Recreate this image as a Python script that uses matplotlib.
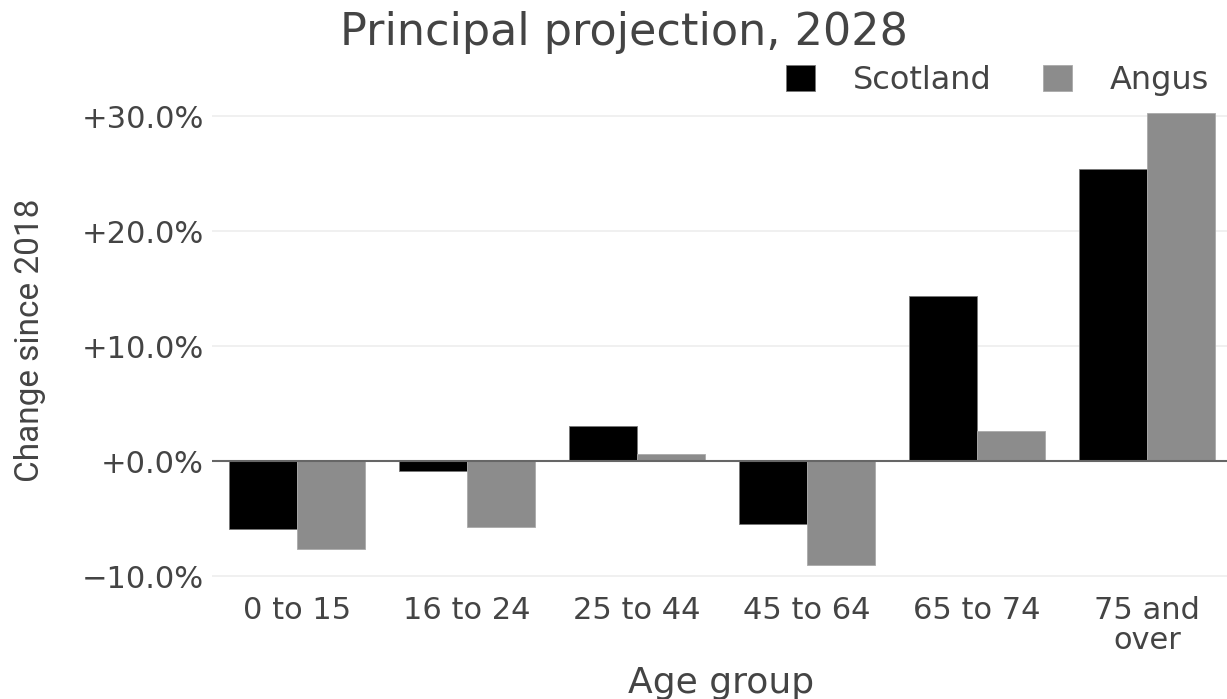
import matplotlib
matplotlib.use("Agg")
import matplotlib.pyplot as plt
import numpy as np

# Data (% change 2018 -> 2028)
age_groups = ["0 to 15", "16 to 24", "25 to 44", "45 to 64", "65 to 74", "75 and\nover"]
scotland = [-5.9, -0.85, 3.1, -5.5, 14.4, 25.4]
angus = [-7.6, -5.7, 0.6, -9.0, 2.6, 30.3]
y_ticks = [-10, 0, 10, 20, 30]

text_col = "#444444"

fig = plt.figure(figsize=(12.27, 6.99), dpi=100)
ax = fig.add_axes([212 / 1227, 1 - 590 / 699, 1020 / 1227, (590 - 107) / 699])

x = np.arange(len(age_groups))
w = 0.4
ax.bar(x - w / 2, scotland, w, color="black", edgecolor="#777777", linewidth=0.6,
       label="Scotland", zorder=3)
ax.bar(x + w / 2, angus, w, color="#8c8c8c", edgecolor="#aaaaaa", linewidth=0.6,
       label="Angus", zorder=3)

ax.set_xlim(-0.5, len(age_groups) - 0.5)
ax.set_ylim(-11.2, 30.8)
ax.set_yticks(y_ticks)
ax.set_yticklabels([("\u2212" if v < 0 else "+") + f"{abs(v):.1f}%" for v in y_ticks])
ax.set_xticks(x)
ax.set_xticklabels(age_groups, linespacing=1.05)

ax.grid(axis="y", color="#eeeeee", linewidth=1.2, zorder=0)
ax.axhline(0, color="#666666", linewidth=1.5, zorder=4)
for s in ax.spines.values():
    s.set_visible(False)
ax.tick_params(axis="both", length=0, labelsize=22, colors=text_col)
ax.tick_params(axis="y", pad=6)
ax.tick_params(axis="x", pad=4)
for lab in ax.get_xticklabels() + ax.get_yticklabels():
    lab.set_fontfamily("DejaVu Sans")

fig.text(624 / 1227, 1 - 33 / 699, "Principal projection, 2028", ha="center", va="center",
         fontsize=32, color=text_col, family="DejaVu Sans")
fig.text(721 / 1227, 1 - 683 / 699, "Age group", ha="center", va="center",
         fontsize=26, color=text_col, family="DejaVu Sans")
fig.text(30 / 1227, 1 - 340 / 699, "Change since 2018", ha="center", va="center",
         rotation=90, fontsize=24, color=text_col, family="Roboto")

leg = ax.legend(loc="lower right", bbox_to_anchor=(1222 / 1227, 1 - 109 / 699),
                bbox_transform=fig.transFigure, ncol=2, frameon=False, fontsize=23,
                handlelength=0.9, handleheight=0.9, handletextpad=1.2, columnspacing=1.6,
                borderaxespad=0)
for t in leg.get_texts():
    t.set_color(text_col)
    t.set_fontfamily("DejaVu Sans")

fig.savefig("out.png", dpi=100, facecolor="white")
